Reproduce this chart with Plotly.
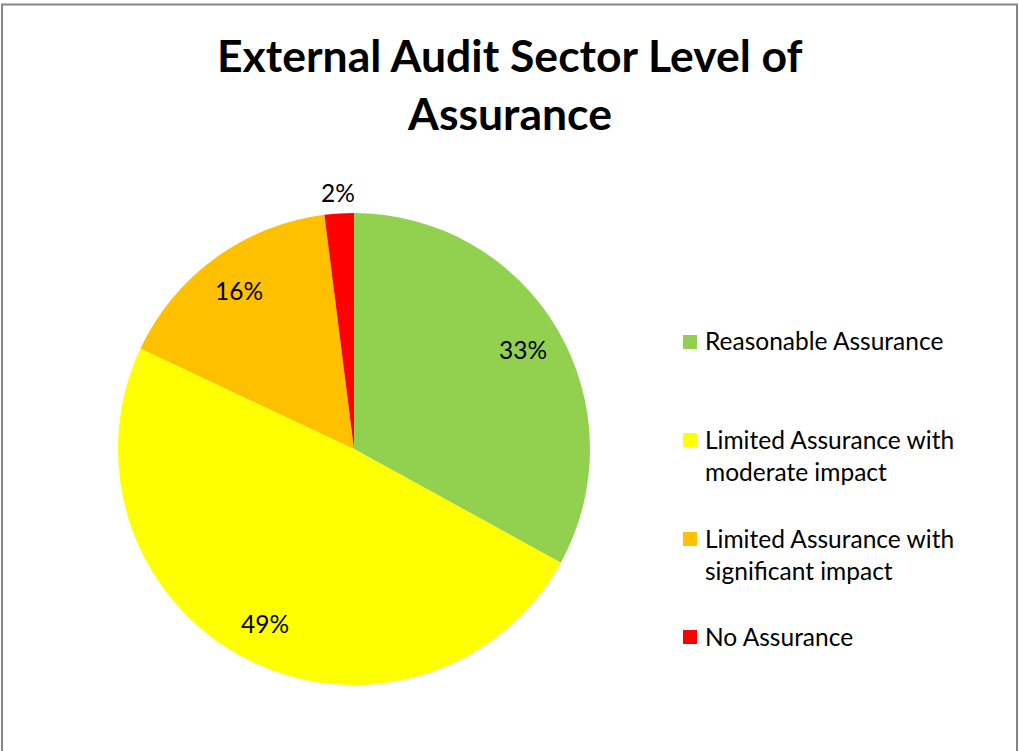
import math
import textwrap
import plotly.graph_objects as go

# Sector-level assurance results
categories = [
    "Reasonable Assurance",
    "Limited Assurance with moderate impact",
    "Limited Assurance with significant impact",
    "No Assurance",
]
shares = [33, 49, 16, 2]
slice_colors = ["#92D050", "#FFFF00", "#FFC000", "#FF0000"]
title_lines = ["External Audit Sector Level of", "Assurance"]

W, H = 1019, 751
FONT = "Lato, Carlito, Calibri, sans-serif"
TEXT_SIZE = 24.5

# Pie geometry in pixels
cx, cy, R = 354, 449, 236


def px(x):
    return x / W


def py(y):
    return 1 - y / H


fig = go.Figure(
    go.Pie(
        labels=categories,
        values=shares,
        sort=False,
        direction="clockwise",
        rotation=0,
        marker=dict(colors=slice_colors, line=dict(width=0)),
        textinfo="none",
        hoverinfo="label+percent",
        showlegend=False,
        domain=dict(x=[px(cx - R), px(cx + R)], y=[py(cy + R), py(cy - R)]),
    )
)

annotations = []

# Percentage labels placed at each slice's mid-angle
total = sum(shares)
cum = 0
for v in shares:
    mid = (cum + v / 2) / total * 2 * math.pi
    cum += v
    frac = v / total
    r = R * (1.09 if frac < 0.05 else 0.83)
    lx = cx + r * math.sin(mid)
    ly = cy - r * math.cos(mid)
    annotations.append(dict(
        x=px(lx), y=py(ly), xref="paper", yref="paper",
        text=f"{round(frac * 100)}%", showarrow=False,
        xanchor="center", yanchor="middle",
        font=dict(family=FONT, size=TEXT_SIZE, color="#000000"),
    ))

# Title, two lines
for i, line in enumerate(title_lines):
    annotations.append(dict(
        x=px(510), y=py(55 + 58 * i), xref="paper", yref="paper",
        text=f"<b>{line}</b>", showarrow=False,
        xanchor="center", yanchor="middle",
        font=dict(family=FONT, size=44.5, color="#000000"),
    ))

# Legend: colour squares with wrapped labels
legend_first_line = [342, 440, 539, 637]
line_gap = 32
shapes = []
for cat, col, y0 in zip(categories, slice_colors, legend_first_line):
    shapes.append(dict(
        type="rect", xref="paper", yref="paper",
        x0=px(683), x1=px(697), y0=py(y0 + 7), y1=py(y0 - 7),
        fillcolor=col, line=dict(width=0),
    ))
    for j, line in enumerate(textwrap.wrap(cat, 22)):
        annotations.append(dict(
            x=px(703), y=py(y0 - 1 + j * line_gap), xref="paper", yref="paper",
            text=line, showarrow=False,
            xanchor="left", yanchor="middle",
            font=dict(family=FONT, size=TEXT_SIZE, color="#000000"),
        ))

# Chart frame
shapes.append(dict(
    type="rect", xref="paper", yref="paper",
    x0=px(2), x1=px(1017), y0=py(800), y1=py(4.5),
    line=dict(color="#878787", width=2), fillcolor="rgba(0,0,0,0)",
))

fig.update_layout(
    width=W, height=H,
    margin=dict(l=0, r=0, t=0, b=0),
    paper_bgcolor="#FFFFFF",
    plot_bgcolor="#FFFFFF",
    annotations=annotations,
    shapes=shapes,
)

fig.write_html("out.html")
